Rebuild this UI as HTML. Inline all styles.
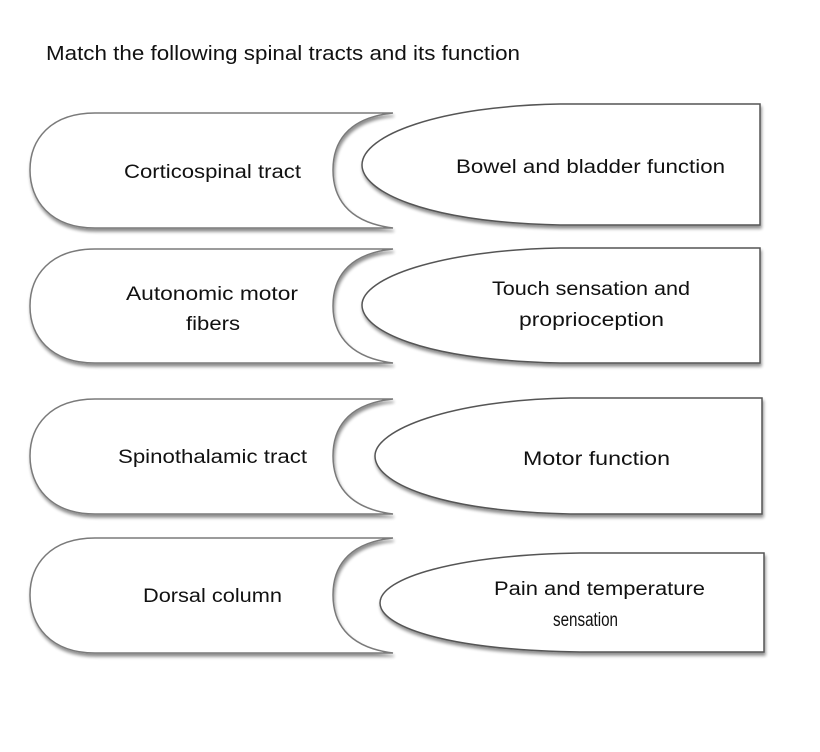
<!DOCTYPE html>
<html><head><meta charset="utf-8"><style>
body{margin:0;background:#fff}
svg{display:block}
text{font-family:"Liberation Sans",sans-serif;font-size:19px;fill:#111}
</style></head><body>
<svg width="820" height="752" viewBox="0 0 820 752">
<defs>
<filter id="sh" x="-10%" y="-10%" width="120%" height="130%">
<feGaussianBlur in="SourceAlpha" stdDeviation="1.5"/>
<feOffset dx="1" dy="3"/>
<feComponentTransfer><feFuncA type="linear" slope="0.45"/></feComponentTransfer>
<feMerge><feMergeNode/><feMergeNode in="SourceGraphic"/></feMerge>
</filter>
</defs>
<text x="46" y="60" style="font-size:20px" textLength="474" lengthAdjust="spacingAndGlyphs">Match the following spinal tracts and its function</text>
<g fill="#fff" stroke="#7a7a7a" stroke-width="1.5" filter="url(#sh)">
<path d="M393,113 L95,113 C50,113 30,140 30,170 C30,200 50,228 95,228 L393,228 C345,222 333,195 333,170 C333,145 345,118 393,113 Z"/>
<path d="M393,249 L95,249 C50,249 30,276 30,306 C30,336 50,363 95,363 L393,363 C345,357 333,330 333,306 C333,281 345,254 393,249 Z"/>
<path d="M393,399 L95,399 C50,399 30,426 30,456 C30,486 50,514 95,514 L393,514 C345,508 333,481 333,456 C333,431 345,404 393,399 Z"/>
<path d="M393,538 L95,538 C50,538 30,565 30,595 C30,625 50,653 95,653 L393,653 C345,647 333,620 333,595 C333,570 345,543 393,538 Z"/>
</g>
<g fill="#fff" stroke="#555" stroke-width="1.5" filter="url(#sh)">
<path d="M760,104 L760,225 L560,225 C420,222 362,190 362,165 C362,135 440,106 560,104 Z"/>
<path d="M760,248 L760,363 L560,363 C420,360 362,330 362,305 C362,278 440,250 560,248 Z"/>
<path d="M762,398 L762,514 L570,514 C435,511 375,482 375,456 C375,430 450,400 570,398 Z"/>
<path d="M764,553 L764,652 L580,652 C440,650 380,625 380,603 C380,578 455,555 580,553 Z"/>
</g>
<g lengthAdjust="spacingAndGlyphs">
<text x="124" y="178" textLength="177" lengthAdjust="spacingAndGlyphs">Corticospinal tract</text>
<text x="126" y="300" textLength="172" lengthAdjust="spacingAndGlyphs">Autonomic motor</text>
<text x="186" y="330" textLength="54" lengthAdjust="spacingAndGlyphs">fibers</text>
<text x="118" y="463" textLength="189" lengthAdjust="spacingAndGlyphs">Spinothalamic tract</text>
<text x="143" y="602" textLength="139" lengthAdjust="spacingAndGlyphs">Dorsal column</text>
<text x="456" y="173" textLength="269" lengthAdjust="spacingAndGlyphs">Bowel and bladder function</text>
<text x="492" y="295" textLength="198" lengthAdjust="spacingAndGlyphs">Touch sensation and</text>
<text x="519" y="326" textLength="145" lengthAdjust="spacingAndGlyphs">proprioception</text>
<text x="523" y="465" textLength="147" lengthAdjust="spacingAndGlyphs">Motor function</text>
<text x="494" y="595" textLength="211" lengthAdjust="spacingAndGlyphs">Pain and temperature</text>
<text x="553" y="626" textLength="65" lengthAdjust="spacingAndGlyphs">sensation</text>
</g>
</svg>
</body></html>
